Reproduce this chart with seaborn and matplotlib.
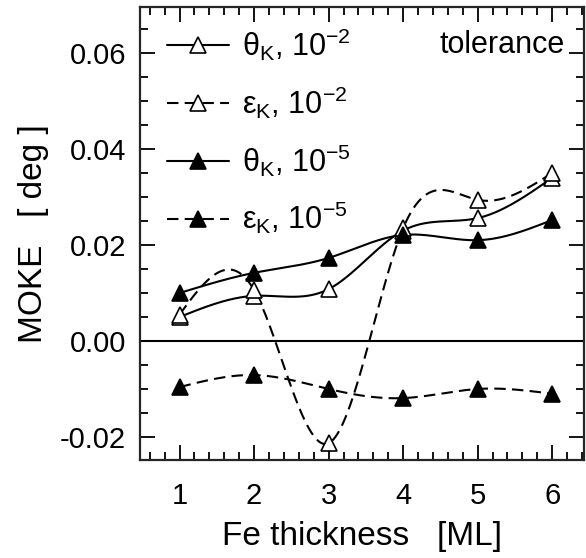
import numpy as np
import pandas as pd
import matplotlib
matplotlib.use('Agg')
import matplotlib.pyplot as plt
from matplotlib.lines import Line2D
from matplotlib.ticker import MultipleLocator
import seaborn as sns

# values
thickness = [1, 2, 3, 4, 5, 6]
theta_k_1e2 = [0.0050, 0.0094, 0.0108, 0.0230, 0.0256, 0.0340]
eps_k_1e2 = [0.0055, 0.0106, -0.0213, 0.0235, 0.0294, 0.0350]
theta_k_1e5 = [0.0100, 0.0142, 0.0173, 0.0221, 0.0210, 0.0252]
eps_k_1e5 = [-0.0096, -0.0071, -0.0100, -0.0119, -0.0100, -0.0110]
labels = [r'$\theta_\mathregular{K}$, 10$^{-2}$', r'$\varepsilon_\mathregular{K}$, 10$^{-2}$',
          r'$\theta_\mathregular{K}$, 10$^{-5}$', r'$\varepsilon_\mathregular{K}$, 10$^{-5}$']
y_ticks = [-0.02, 0.0, 0.02, 0.04, 0.06]
y_ticklabels = ['-0.02', '0.00', '0.02', '0.04', '0.06']


def spline_curve(x, y, n=300):
    """natural cubic spline, only used to draw the connecting line"""
    x = np.asarray(x, float)
    y = np.asarray(y, float)
    k = len(x)
    h = np.diff(x)
    A = np.zeros((k, k))
    b = np.zeros(k)
    A[0, 0] = A[-1, -1] = 1
    for i in range(1, k - 1):
        A[i, i - 1] = h[i - 1]
        A[i, i] = 2 * (h[i - 1] + h[i])
        A[i, i + 1] = h[i]
        b[i] = 6 * ((y[i + 1] - y[i]) / h[i] - (y[i] - y[i - 1]) / h[i - 1])
    m = np.linalg.solve(A, b)
    xs = np.linspace(x[0], x[-1], n)
    idx = np.clip(np.searchsorted(x, xs) - 1, 0, k - 2)
    x0, x1 = x[idx], x[idx + 1]
    hh = x1 - x0
    t0, t1 = x1 - xs, xs - x0
    ys = (m[idx] * t0 ** 3 + m[idx + 1] * t1 ** 3) / (6 * hh) \
        + (y[idx] / hh - m[idx] * hh / 6) * t0 + (y[idx + 1] / hh - m[idx + 1] * hh / 6) * t1
    return pd.DataFrame({'x': xs, 'y': ys})


sns.set_style('ticks')
plt.rcParams['font.family'] = ['Liberation Sans', 'DejaVu Sans']
plt.rcParams['mathtext.default'] = 'regular'
plt.rcParams['axes.linewidth'] = 1.6
plt.rcParams['text.color'] = 'black'
plt.rcParams['axes.labelcolor'] = 'black'

fig = plt.figure(figsize=(5.86, 5.58), dpi=100)
ax = fig.add_axes([0.239, 0.1756, 0.758, 0.812])

ax.axhline(0, color='black', lw=1.5, zorder=1)

LW = 1.5
DASH = (5.5, 3.0)
series = [(theta_k_1e2, '-', 'white'), (eps_k_1e2, '--', 'white'),
          (theta_k_1e5, '-', 'black'), (eps_k_1e5, '--', 'black')]
handles = []
for (vals, ls, fc), lab in zip(series, labels):
    curve = spline_curve(thickness, vals)
    sns.lineplot(data=curve, x='x', y='y', ax=ax, color='black', lw=LW,
                 linestyle=ls, sort=False, estimator=None, zorder=2)
    if ls == '--':
        ax.lines[-1].set_dashes(DASH)
    ax.plot(thickness, vals, linestyle='none', marker='^', ms=11,
            mfc=fc, mec='black', mew=1.2, zorder=3)
    h = Line2D([], [], color='black', lw=LW, linestyle=ls, marker='^', ms=11,
               mfc=fc, mec='black', mew=1.2)
    if ls == '--':
        h.set_dashes(DASH)
    handles.append(h)

ax.set_xlim(0.47, 6.43)
ax.xaxis.set_major_locator(MultipleLocator(1))
ax.xaxis.set_minor_locator(MultipleLocator(0.2))
ax.set_yticks(y_ticks)
ax.set_yticklabels(y_ticklabels)
ax.yaxis.set_minor_locator(MultipleLocator(0.005))
ax.set_ylim(-0.0248, 0.0696)
ax.tick_params(which='both', direction='in', top=True, right=True, width=1.3,
               labelsize=21, colors='black')
ax.tick_params(which='major', length=11)
ax.tick_params(which='minor', length=6)
ax.tick_params(axis='x', pad=16)
ax.tick_params(axis='y', pad=10)

ax.set_xlabel('Fe thickness   [ML]', fontsize=24, labelpad=8)
ax.set_ylabel('MOKE   [ deg ]', fontsize=24, labelpad=8)

leg = ax.legend(handles, labels, loc='upper left', bbox_to_anchor=(0.048, 0.97),
                frameon=False, fontsize=22, handlelength=2.0, handletextpad=0.45,
                labelspacing=0.7, borderaxespad=0.0, borderpad=0.2)
ax.text(0.955, 0.916, 'tolerance', transform=ax.transAxes, ha='right', va='center',
        fontsize=22)

fig.savefig('out.png', dpi=100)
